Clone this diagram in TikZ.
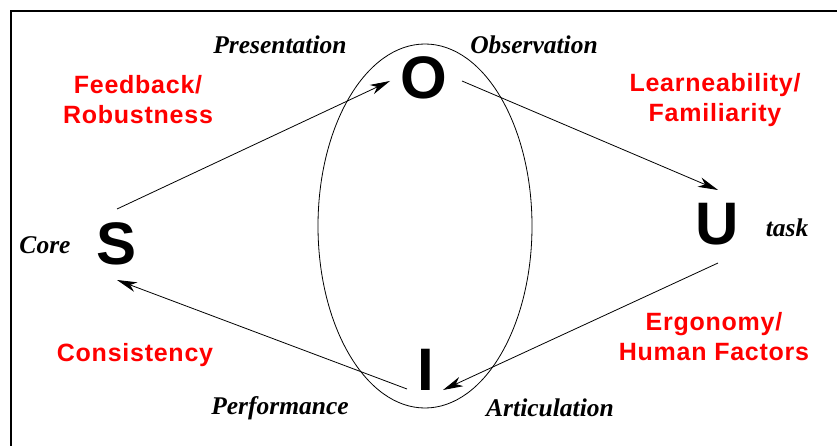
\documentclass[tikz,border=0pt]{standalone}
\usepackage{fontspec}
\usetikzlibrary{arrows.meta}
\newfontfamily\serfont{Liberation Serif}
\newfontfamily\sansfont{Liberation Sans}
\newfontfamily\redsans[LetterSpace=3]{Liberation Sans}
\definecolor{labred}{RGB}{255,0,0}
\begin{document}
\begin{tikzpicture}[x=1pt,y=-1pt,
  letter/.style={font=\sansfont\bfseries\fontsize{60}{60}\selectfont, inner sep=0pt},
  role/.style={font=\serfont\bfseries\itshape\fontsize{25.5}{30}\selectfont, inner sep=0pt},
  quality/.style={font=\redsans\bfseries\fontsize{25}{30}\selectfont, text=labred, align=center, inner sep=0pt},
  arr/.style={line width=0.8pt, -{Stealth[length=20pt,width=10pt,inset=6pt]}},
  frame/.style={line width=2pt}]
\useasboundingbox (0,0) rectangle (837,446);
\fill[white] (0,0) rectangle (837,446);
\draw[frame] (11,446) -- (11,11) -- (837,11);
\draw[line width=0.8pt] (425,226) ellipse [x radius=107, y radius=182];
% letters
\node[letter] (S) at (117,244) {S};
\node[letter] (O) at (424,78) {O};
\node[letter] (U) at (717,224) {U};
\node[letter] (I) at (426,370) {I};
% role labels
\node[role] (pres) at (280,45) {Presentation};
\node[role] (obs) at (534,45) {Observation};
\node[role] (core) at (45,245) {Core};
\node[role] (task) at (787,228) {task};
\node[role] (perf) at (280,408) {Performance};
\node[role] (art) at (550,408) {Articulation};
% quality labels
\node[quality] (fb) at (138,100) {Feedback/\\Robustness};
\node[quality] (lf) at (715,100) {Learneability/\\Familiarity};
\node[quality] (cons) at (135,355) {Consistency};
\node[quality] (erg) at (714,337) {Ergonomy/\\Human Factors};
% connectors
\draw[arr] ([shift={(0,-35)}]S.center) -- ([shift={(-34,3)}]O.center);
\draw[arr] ([shift={(38,3)}]O.center) -- ([shift={(1,-34)}]U.center);
\draw[arr] ([shift={(1,39)}]U.center) -- ([shift={(17,20)}]I.center);
\draw[arr] ([shift={(-19,19)}]I.center) -- ([shift={(0,36)}]S.center);
\end{tikzpicture}
\end{document}
